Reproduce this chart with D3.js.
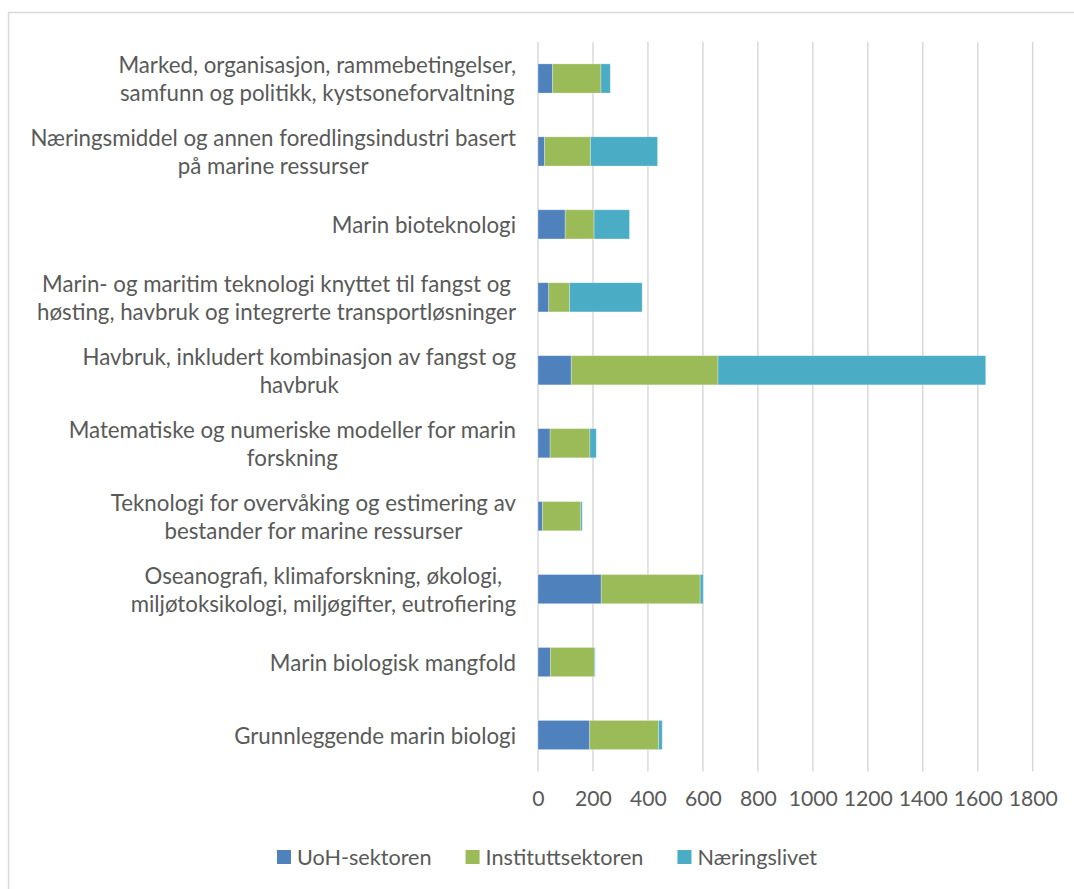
<!DOCTYPE html>
<html>
<head>
<meta charset="utf-8">
<script src="https://cdn.jsdelivr.net/npm/d3@7"></script>
<style>
  body { margin: 0; background: #fff; }
  text { font-family: Lato, "Open Sans", sans-serif; fill: #595959; }
</style>
</head>
<body>
<svg width="1074" height="889"></svg>
<script>
// categories, top to bottom, with the line breaks of the original
const categories = [
    ["Marked, organisasjon, rammebetingelser,", "samfunn og politikk, kystsoneforvaltning"],
    ["Næringsmiddel og annen foredlingsindustri basert", "på marine ressurser"],
    ["Marin bioteknologi"],
    ["Marin- og maritim teknologi knyttet til fangst og", "høsting, havbruk og integrerte transportløsninger"],
    ["Havbruk, inkludert kombinasjon av fangst og", "havbruk"],
    ["Matematiske og numeriske modeller for marin", "forskning"],
    ["Teknologi for overvåking og estimering av", "bestander for marine ressurser"],
    ["Oseanografi, klimaforskning, økologi,", "miljøtoksikologi, miljøgifter, eutrofiering"],
    ["Marin biologisk mangfold"],
    ["Grunnleggende marin biologi"]
];

const seriesNames = ["UoH-sektoren", "Instituttsektoren", "Næringslivet"];
const seriesColors = ["#4f81bd", "#9bbb59", "#4bacc6"];

const uoh       = [53, 24, 99, 39, 121, 44, 16, 230, 45, 188];
const institutt = [176, 167, 105, 76, 534, 145, 140, 360, 160, 251];
const naering   = [34, 244, 129, 264, 974, 23, 5, 11, 3, 13];

const xTicks = [0, 200, 400, 600, 800, 1000, 1200, 1400, 1600, 1800];

const svg = d3.select("svg");

// outer chart border
svg.append("rect")
    .attr("x", 8.5).attr("y", 12.5)
    .attr("width", 1080).attr("height", 900)
    .attr("fill", "none")
    .attr("stroke", "#d9d9d9")
    .attr("stroke-width", 1.5);

const rows = categories.map((c, i) => ({
    key: i,
    lines: c,
    values: [uoh[i], institutt[i], naering[i]]
}));

const x = d3.scaleLinear().domain([0, 1800]).range([538, 1032.7]);
const y = d3.scaleBand().domain(rows.map(r => r.key)).range([42, 771.5]).paddingInner(0.6).paddingOuter(0.3);

// font size fitted so the longest label line has the original's width
const probe = svg.append("text").attr("font-size", 20).text(categories[1][0]);
const fontSize = 20 * 486 / probe.node().getComputedTextLength();
probe.remove();

// gridlines
svg.append("g")
    .selectAll("line")
    .data(xTicks)
    .join("line")
    .attr("x1", d => x(d)).attr("x2", d => x(d))
    .attr("y1", 42).attr("y2", 771.5)
    .attr("stroke", "#d9d9d9")
    .attr("stroke-width", 1.5);

// x axis labels
const xAxis = svg.append("g")
    .attr("transform", "translate(0,771.5)")
    .call(d3.axisBottom(x).tickValues(xTicks).tickSize(0).tickPadding(19).tickFormat(d3.format("d")));
xAxis.select(".domain").remove();
xAxis.selectAll("text")
    .attr("font-size", fontSize * 0.95)
    .style("font-family", "Lato, sans-serif")
    .attr("fill", "#595959");

// stacked bars
const stack = d3.stack().keys([0, 1, 2]).value((d, k) => d.values[k]);
const stacked = stack(rows);

svg.append("g")
    .selectAll("g")
    .data(stacked)
    .join("g")
    .attr("fill", (d, i) => seriesColors[i])
    .selectAll("rect")
    .data(d => d)
    .join("rect")
    .attr("x", d => x(d[0]))
    .attr("width", d => x(d[1]) - x(d[0]))
    .attr("y", d => y(d.data.key))
    .attr("height", y.bandwidth())
    .attr("stroke", "#ffffff")
    .attr("stroke-opacity", 0.35)
    .attr("stroke-width", 0.8);

// category labels: lines centered within a right-aligned block
const lineH = 28;
const labels = svg.append("g");
rows.forEach(r => {
    const g = labels.append("g");
    const texts = g.selectAll("text")
        .data(r.lines)
        .join("text")
        .attr("font-size", fontSize)
        .attr("text-anchor", "middle")
        .attr("dominant-baseline", "central")
        .attr("y", (d, i) => y(r.key) + y.bandwidth() / 2 + (i - (r.lines.length - 1) / 2) * lineH)
        .text(d => d);
    let maxW = 0;
    texts.each(function () { maxW = Math.max(maxW, this.getComputedTextLength()); });
    texts.attr("x", 516 - maxW / 2);
});

// legend
const legend = svg.append("g");
let lx = 0;
seriesNames.forEach((name, i) => {
    const g = legend.append("g").attr("transform", `translate(${lx},0)`);
    g.append("rect")
        .attr("x", 0).attr("y", -7)
        .attr("width", 14).attr("height", 14)
        .attr("fill", seriesColors[i]);
    const t = g.append("text")
        .attr("x", 20)
        .attr("font-size", fontSize * 0.97)
        .attr("dominant-baseline", "central")
        .text(name);
    lx += 20 + t.node().getComputedTextLength() + 34;
});
const legendW = lx - 34;
legend.attr("transform", `translate(${547 - legendW / 2},857)`);
</script>
</body>
</html>
